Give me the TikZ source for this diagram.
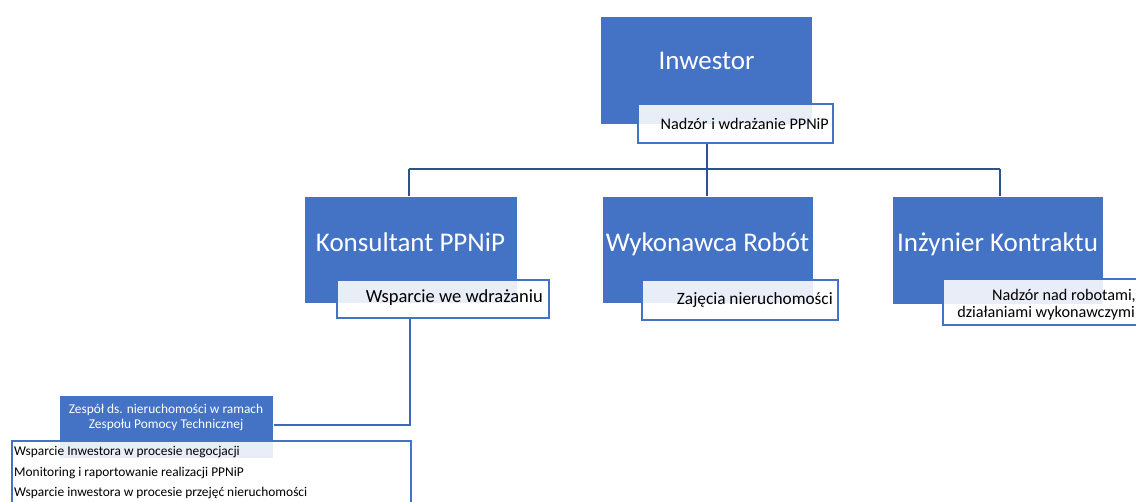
\documentclass[tikz,border=0pt]{standalone}
\usepackage{fontspec}
\setmainfont{Carlito}
\usetikzlibrary{backgrounds}
\definecolor{boxblue}{HTML}{4472C4}
\definecolor{linkblue}{HTML}{2F528F}
\definecolor{linkblue2}{HTML}{3D69BA}
\begin{document}
\begin{tikzpicture}[x=1pt,y=-1pt,
  bigbox/.style={fill=boxblue,draw=white,line width=0.6pt,inner sep=0pt},
  lbl/.style={fill=white,fill opacity=0.88,text opacity=1,draw=boxblue,line width=2pt,inner sep=0pt},
  title/.style={text=white,font=\fontsize{27}{31}\selectfont,inner sep=0pt,anchor=base},
  ltext/.style={text=black,inner sep=0pt,anchor=base east},
  link/.style={draw=linkblue,line width=2.8pt}
]
\useasboundingbox (0,0) rectangle (1136,502);
% boxes
\node[bigbox,minimum width=212,minimum height=108] (inw) at (706.5,70) {};
\node[bigbox,minimum width=213,minimum height=107] (kon) at (410.5,250) {};
\node[bigbox,minimum width=211,minimum height=107] (wyk) at (707.5,250) {};
\node[bigbox,minimum width=211,minimum height=108] (inz) at (997.5,250.5) {};
\node[bigbox,minimum width=214,minimum height=63] (zes) at (166,426.5) {};
% titles
\node[title] (tinw) at (706.5,70) {Inwestor};
\node[title] (tkon) at (410.5,252) {Konsultant PPNiP};
\node[title] (twyk) at (707.5,252) {Wykonawca Robót};
\node[title] (tinz) at (997.5,252) {Inżynier Kontraktu};
% labels
\node[lbl,minimum width=195,minimum height=39] (linw) at (735.5,123.5) {};
\node[ltext,font=\fontsize{16.2}{19}\selectfont] (xinw) at (829,130) {Nadzór i wdrażanie PPNiP};
\node[lbl,minimum width=212,minimum height=38] (lkon) at (443,299) {};
\node[ltext,font=\fontsize{18.5}{22}\selectfont] (xkon) at (543,303) {Wsparcie we wdrażaniu};
\node[lbl,minimum width=196,minimum height=40] (lwyk) at (740,300) {};
\node[ltext,font=\fontsize{17.3}{20}\selectfont] (xwyk) at (833,305) {Zajęcia nieruchomości};
\node[lbl,minimum width=220,minimum height=46] (linz) at (1053,302) {};
\node[ltext,font=\fontsize{16.2}{19}\selectfont] (xinz1) at (1136,301) {Nadzór nad robotami,};
\node[ltext,font=\fontsize{16.2}{19}\selectfont] (xinz2) at (1135,318) {działaniami wykonawczymi};
% team
\node[text=white,font=\fontsize{13.4}{15}\selectfont,align=center,inner sep=0pt] (tzes) at (166,417)
  {Zespół ds. nieruchomości w ramach\\Zespołu Pomocy Technicznej};
\node[lbl,minimum width=399,minimum height=80,anchor=north west] (list) at (11,440) {};
\begin{scope}[font=\fontsize{13.4}{15}\selectfont]
\node[anchor=base west,inner sep=0pt] (l1) at (14,456) {Wsparcie Inwestora w procesie negocjacji};
\node[anchor=base west,inner sep=0pt] (l2) at (14,477) {Monitoring i raportowanie realizacji PPNiP};
\node[anchor=base west,inner sep=0pt] (l3) at (14,497) {Wsparcie inwestora w procesie przejęć nieruchomości};
\end{scope}
% links
\begin{scope}[on background layer]
\coordinate (hub) at (707,169);
\coordinate (hl) at (409,169);
\coordinate (hr) at (1000,169);
\coordinate (bend) at (410,425);
\draw[link] (linw.south -| hub) -- (hub);
\draw[link] (hl) -- (hr);
\draw[link] (hl) -- (kon.north -| hl);
\draw[link] (hub) -- (wyk.north -| hub);
\draw[link] (hr) -- (inz.north -| hr);
\draw[link,draw=linkblue2] (lkon.south -| bend) -- (bend) -- (zes.east |- bend);
\end{scope}
\end{tikzpicture}
\end{document}
